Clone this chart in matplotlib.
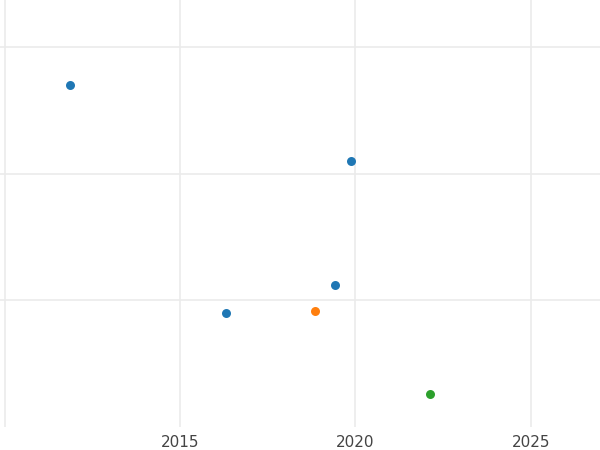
import matplotlib
matplotlib.use("Agg")
import matplotlib.pyplot as plt

years_blue = [2011.87, 2019.87, 2019.42, 2016.31]
values_blue = [2.70, 2.10, 1.12, 0.90]
years_orange = [2018.85]
values_orange = [0.917]
years_green = [2022.12]
values_green = [0.26]

x_ticks = [2010, 2015, 2020, 2025]
x_tick_labels = ["", "2015", "2020", "2025"]
y_ticks = [1, 2, 3]

fig = plt.figure(figsize=(6, 4.5), dpi=100)
ax = fig.add_axes([0, 23 / 450, 1, 1 - 23 / 450])

ax.scatter(years_blue, values_blue, s=42, color="#1f77b4", zorder=3, linewidths=0)
ax.scatter(years_orange, values_orange, s=42, color="#ff7f0e", zorder=3, linewidths=0)
ax.scatter(years_green, values_green, s=42, color="#2ca02c", zorder=3, linewidths=0)

ax.set_xlim(2009.87, 2026.97)
ax.set_ylim(0, 3.375)
ax.set_xticks(x_ticks)
ax.set_xticklabels(x_tick_labels)
ax.set_yticks(y_ticks)
ax.set_yticklabels([])
ax.grid(True, color="#ebebeb", linewidth=1.2)
ax.set_axisbelow(True)
for s in ax.spines.values():
    s.set_visible(False)
ax.tick_params(length=0, labelsize=11, labelcolor="#444444", pad=6)

fig.savefig("out.png", dpi=100)
